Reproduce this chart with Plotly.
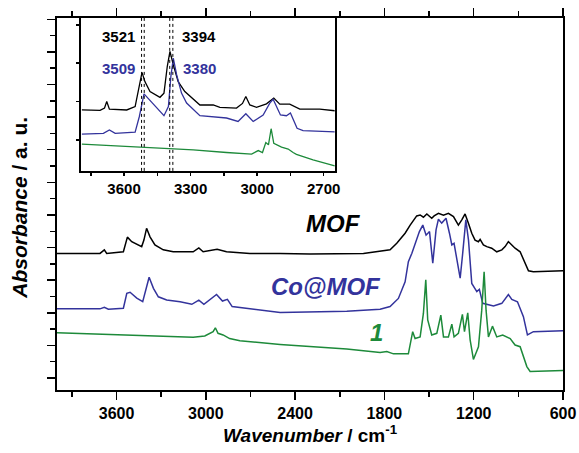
import plotly.graph_objects as go

# ---------------- main spectra (wavenumber / cm-1, absorbance a.u. with offsets) -------------
mof_wn = [4000, 3711, 3682, 3666, 3554, 3527, 3498, 3431, 3416, 3398, 3375, 3342, 3286, 3219,
          3085, 3047, 3018, 2924, 2861, 2704, 2501, 2300, 1941, 1762, 1717, 1661, 1627, 1583,
          1560, 1538, 1515, 1482, 1466, 1437, 1403, 1370, 1336, 1303, 1280, 1258, 1235, 1213,
          1191, 1168, 1157, 1135, 1112, 1079, 1045, 1011, 989, 967, 944, 922, 888, 855, 832,
          799, 642, 600]
mof_ab = [3.82, 3.82, 3.93, 3.82, 3.87, 4.32, 4.18, 4.03, 4.23, 4.59, 4.33, 4.08, 3.93, 3.87,
          3.87, 3.99, 3.87, 3.95, 3.87, 3.82, 3.82, 3.80, 3.82, 3.93, 4.13, 4.44, 4.69, 4.97,
          5.00, 4.93, 5.03, 4.90, 4.97, 5.05, 4.99, 5.05, 4.95, 4.69, 4.85, 5.03, 4.74, 4.44,
          4.23, 4.18, 4.25, 4.08, 4.03, 3.98, 3.87, 3.93, 4.03, 4.18, 4.08, 3.98, 3.87, 3.52,
          3.29, 3.26, 3.29, 3.29]

co_wn = [4000, 3711, 3682, 3655, 3554, 3531, 3509, 3464, 3424, 3401, 3381, 3352, 3319, 3263,
         3173, 3094, 3047, 3013, 2973, 2928, 2888, 2855, 2823, 2771, 2501, 2053, 1829, 1762,
         1706, 1661, 1639, 1616, 1594, 1565, 1542, 1520, 1497, 1475, 1453, 1437, 1415, 1386,
         1363, 1347, 1332, 1291, 1274, 1253, 1235, 1213, 1179, 1162, 1139, 1067, 1011, 967,
         944, 906, 866, 839, 799, 642, 600]
co_ab = [2.12, 2.12, 2.17, 2.11, 2.14, 2.60, 2.63, 2.45, 2.34, 2.70, 3.09, 2.75, 2.49, 2.39,
         2.34, 2.26, 2.39, 2.26, 2.39, 2.56, 2.36, 2.41, 2.19, 2.16, 2.01, 2.05, 2.11, 2.19,
         2.44, 2.95, 3.57, 3.82, 4.13, 4.49, 4.69, 4.38, 4.49, 3.52, 4.54, 4.87, 4.75, 4.90,
         4.44, 4.08, 4.13, 3.06, 3.82, 4.85, 4.23, 2.90, 2.65, 2.72, 2.29, 2.21, 2.29, 2.56,
         2.41, 2.34, 1.88, 1.32, 1.42, 1.45, 1.45]

c1_wn = [4000, 3711, 3375, 3085, 3007, 2973, 2951, 2936, 2918, 2884, 2840, 2771, 2592, 2501,
         2053, 1829, 1784, 1739, 1639, 1623, 1610, 1594, 1560, 1538, 1522, 1509, 1482, 1448,
         1421, 1403, 1370, 1347, 1332, 1303, 1276, 1262, 1240, 1224, 1202, 1168, 1146, 1130,
         1117, 1101, 1074, 1045, 1005, 955, 922, 888, 843, 821, 642, 600]
c1_ab = [1.39, 1.34, 1.29, 1.25, 1.29, 1.37, 1.42, 1.54, 1.37, 1.32, 1.21, 1.14, 1.06, 1.03,
         0.89, 0.78, 0.81, 0.74, 0.74, 1.06, 1.42, 1.21, 1.26, 1.98, 3.01, 1.78, 1.32, 1.37,
         1.93, 1.26, 1.26, 1.65, 1.26, 1.37, 1.95, 1.42, 2.00, 1.17, 0.57, 0.96, 2.08, 3.26,
         2.08, 1.26, 1.59, 1.26, 1.32, 1.21, 1.01, 0.96, 0.35, 0.20, 0.23, 0.23]

# ---------------- inset (3800-2650 cm-1 region, expanded scale) -------------
in_mof_wn = [3790, 3708, 3688, 3678, 3666, 3588, 3550, 3531, 3519, 3506, 3483, 3438, 3420, 3405,
             3393, 3378, 3356, 3326, 3258, 3198, 3168, 3093, 3066, 3051, 3033, 3003, 2958, 2925,
             2898, 2853, 2808, 2718, 2650]
in_mof_ab = [0.78, 0.77, 0.83, 1.00, 0.80, 0.78, 0.87, 1.44, 1.76, 1.52, 1.26, 1.11, 1.22, 1.92,
             2.31, 1.96, 1.52, 1.26, 0.91, 0.91, 0.85, 0.83, 0.95, 1.13, 0.91, 0.85, 0.94, 1.09,
             0.93, 0.93, 0.80, 0.80, 0.76]

in_co_wn = [3790, 3693, 3666, 3640, 3550, 3531, 3510, 3483, 3445, 3420, 3400, 3389, 3378, 3363,
            3341, 3318, 3258, 3138, 3086, 3051, 3018, 2973, 2943, 2928, 2895, 2868, 2850, 2820,
            2793, 2650]
in_co_ab = [0.15, 0.17, 0.26, 0.17, 0.20, 0.61, 1.20, 1.03, 0.78, 0.63, 0.87, 1.65, 2.13, 1.70,
            1.22, 0.96, 0.63, 0.57, 0.48, 0.68, 0.48, 0.65, 0.96, 1.06, 0.65, 0.63, 0.70, 0.30,
            0.24, 0.21]

in_c1_wn = [3790, 3588, 3438, 3288, 3138, 3025, 2995, 2976, 2961, 2949, 2937, 2925, 2890, 2860,
            2838, 2823, 2748, 2650]
in_c1_ab = [-0.11, -0.17, -0.22, -0.26, -0.33, -0.37, -0.28, -0.33, -0.07, -0.13, 0.29, -0.09,
            -0.19, -0.24, -0.33, -0.38, -0.52, -0.68]

peak_lines = [3521, 3509, 3394, 3380]

BLACK = "#000000"
BLUE = "#33339c"
GREEN = "#1d8a3a"
FONT = "Liberation Sans, Arial, sans-serif"

fig = go.Figure()
for wn, ab, col in [(mof_wn, mof_ab, BLACK), (co_wn, co_ab, BLUE), (c1_wn, c1_ab, GREEN)]:
    fig.add_trace(go.Scatter(x=wn, y=ab, mode="lines", line=dict(color=col, width=1.5),
                             showlegend=False, hoverinfo="skip", xaxis="x", yaxis="y"))
for wn, ab, col in [(in_mof_wn, in_mof_ab, BLACK), (in_co_wn, in_co_ab, BLUE),
                    (in_c1_wn, in_c1_ab, GREEN)]:
    fig.add_trace(go.Scatter(x=wn, y=ab, mode="lines", line=dict(color=col, width=1.3),
                             showlegend=False, hoverinfo="skip", xaxis="x2", yaxis="y2"))

for v in peak_lines:
    fig.add_shape(type="line", xref="x2", yref="y2 domain", x0=v, x1=v, y0=0, y1=1,
                  line=dict(color="black", width=1, dash="dot"))

annos = [
    dict(text="<b>3521</b>", x=3627, y=2.69, color=BLACK),
    dict(text="<b>3394</b>", x=3262, y=2.69, color=BLACK),
    dict(text="<b>3509</b>", x=3627, y=1.85, color=BLUE),
    dict(text="<b>3380</b>", x=3258, y=1.85, color=BLUE),
]
for a in annos:
    fig.add_annotation(text=a["text"], x=a["x"], y=a["y"], xref="x2", yref="y2",
                       showarrow=False, font=dict(family=FONT, size=15, color=a["color"]))

fig.add_annotation(text="<b><i>MOF</i></b>", x=2139, y=4.75, xref="x", yref="y", showarrow=False,
                   font=dict(family=FONT, size=24, color=BLACK))
fig.add_annotation(text="<b><i>Co@MOF</i></b>", x=2195, y=2.82, xref="x", yref="y", showarrow=False,
                   font=dict(family=FONT, size=24, color=BLUE))
fig.add_annotation(text="<b><i>1</i></b>", x=1850, y=1.41, xref="x", yref="y", showarrow=False,
                   font=dict(family=FONT, size=24, color=GREEN))

fig.add_annotation(text="<b><i>Wavenumber</i> / cm<sup>-1</sup></b>", x=0.5, y=-0.118,
                   xref="paper", yref="paper", showarrow=False, yanchor="middle",
                   font=dict(family=FONT, size=19, color="black"))
fig.add_annotation(text="<b><i>Absorbance</i> / a. u.</b>", x=-0.073, y=0.49, textangle=-90,
                   xref="paper", yref="paper", showarrow=False, xanchor="center",
                   font=dict(family=FONT, size=21, color="black"))

axis_common = dict(showgrid=False, zeroline=False, linecolor="black", automargin=False)

fig.update_layout(
    width=579, height=453,
    margin=dict(l=57, r=16, t=18, b=63, autoexpand=False),
    paper_bgcolor="white", plot_bgcolor="white",
    font=dict(family=FONT, color="black"),
    xaxis=dict(**axis_common, range=[4000, 600], tickvals=[3600, 3000, 2400, 1800, 1200, 600],
               ticks="outside", ticklen=8, tickwidth=1.5, tickcolor="black", linewidth=2,
               mirror="ticks", showline=True,
               tickfont=dict(family=FONT, size=16, color="black", weight="bold"),
               minor=dict(tickvals=[3900, 3300, 2700, 2100, 1500, 900], ticks="outside",
                          ticklen=5, tickwidth=1.5, tickcolor="black"),
               domain=[0, 1]),
    yaxis=dict(**axis_common, range=[-0.368, 11.04], tick0=0, dtick=1, showticklabels=False,
               ticks="outside", ticklen=8, tickwidth=1.5, tickcolor="black", linewidth=2,
               mirror=True, showline=True,
               minor=dict(dtick=0.5, ticks="outside", ticklen=5, tickwidth=1.5,
                          tickcolor="black"),
               domain=[0, 1]),
    xaxis2=dict(**axis_common, range=[3795, 2650], tickvals=[3600, 3300, 3000, 2700],
                ticks="outside", ticklen=3, tickwidth=1.5, tickcolor="black", linewidth=2,
                mirror=True, showline=True, anchor="y2",
                tickfont=dict(family=FONT, size=15, color="black", weight="bold"),
                minor=dict(tickvals=[3750, 3450, 3150, 2850], ticks="outside", ticklen=3,
                           tickwidth=1.5, tickcolor="black"),
                domain=[0.047, 0.549]),
    yaxis2=dict(**axis_common, range=[-0.81, 3.18], tickvals=[0, 1, 2, 3], showticklabels=False,
                ticks="outside", ticklen=3, tickwidth=1.5, tickcolor="black", linewidth=2,
                mirror=True, showline=True, anchor="x2", domain=[0.589, 1.0]),
    yaxis3=dict(**axis_common, range=[-0.81, 3.18], tickvals=[0, 1, 2, 3], showticklabels=False,
                ticks="inside", ticklen=3, tickwidth=1.5, tickcolor="black", showline=False,
                overlaying="y2", side="right", anchor="x2"),
)

fig.write_html(
    "out.html",
    config={"displayModeBar": False, "staticPlot": True},
    post_script=(
        "var h=document.documentElement, b=document.body;"
        "h.style.margin='0'; h.style.padding='0'; h.style.overflow='hidden';"
        "b.style.margin='0'; b.style.padding='0'; b.style.overflow='hidden';"
    ),
)
